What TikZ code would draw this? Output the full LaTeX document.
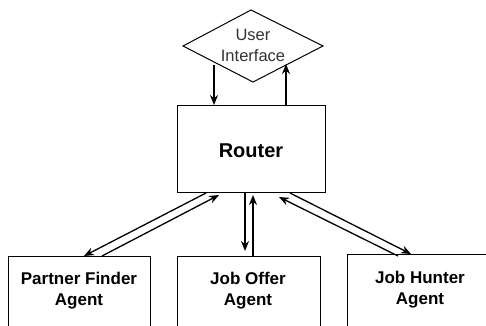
\documentclass[tikz,border=0pt]{standalone}
\usepackage{fontspec}
\setmainfont{Liberation Sans}
\usetikzlibrary{arrows.meta,shapes.geometric}
\begin{document}
\begin{tikzpicture}[x=1pt,y=-1pt,
  box/.style={draw,line width=1.3pt,inner sep=0pt,anchor=north west},
  lbl/.style={align=center,font=\fontsize{17}{21}\selectfont\bfseries},
  arr/.style={line width=1.3pt,-{Stealth[length=10pt,width=8pt]}}]
\useasboundingbox (0,0) rectangle (486,325);
\begin{scope}
\clip (0,0) rectangle (486,325);
% diamond
\coordinate (dt) at (251,10);
\coordinate (dl) at (183,46);
\coordinate (dr) at (323,46);
\coordinate (db) at (253,82);
\draw[line width=1pt] (dt) -- (dr) -- (db) -- (dl) -- cycle;
\node[align=center,font=\fontsize{16.5}{21}\selectfont,text=black!80] (ui) at (253,45) {User\\Interface};
% router
\node[box,minimum width=148pt,minimum height=87pt] (router) at (177,105) {};
\node[font=\fontsize{20}{24}\selectfont\bfseries] (rt) at (251,151) {Router};
% agents
\node[box,minimum width=142pt,minimum height=90pt] (pf) at (8,256) {};
\node[box,minimum width=143pt,minimum height=90pt] (jo) at (177,256) {};
\node[box,minimum width=140pt,minimum height=90pt] (jh) at (347,254) {};
\node[lbl] (pft) at (79,291) {Partner Finder\\Agent};
\node[lbl] (jot) at (248,291) {Job Offer\\Agent};
\node[lbl] (jht) at (420,290) {Job Hunter\\Agent};
% UI <-> router
\draw[arr] (214,65) -- (router.north -| 214,0);
\draw[arr] (router.north -| 286,0) -- (286,64);
% router <-> partner finder
\draw[arr] (206,193) -- (84,256);
\draw[arr] (102,256) -- (219,195);
% router <-> job offer
\draw[arr] (245,192) -- (245,251);
\draw[arr] (253,256) -- (253,195);
% router <-> job hunter
\draw[arr] (290,193) -- (411,254);
\draw[arr] (398,256) -- (279,197);
\end{scope}
\end{tikzpicture}
\end{document}
